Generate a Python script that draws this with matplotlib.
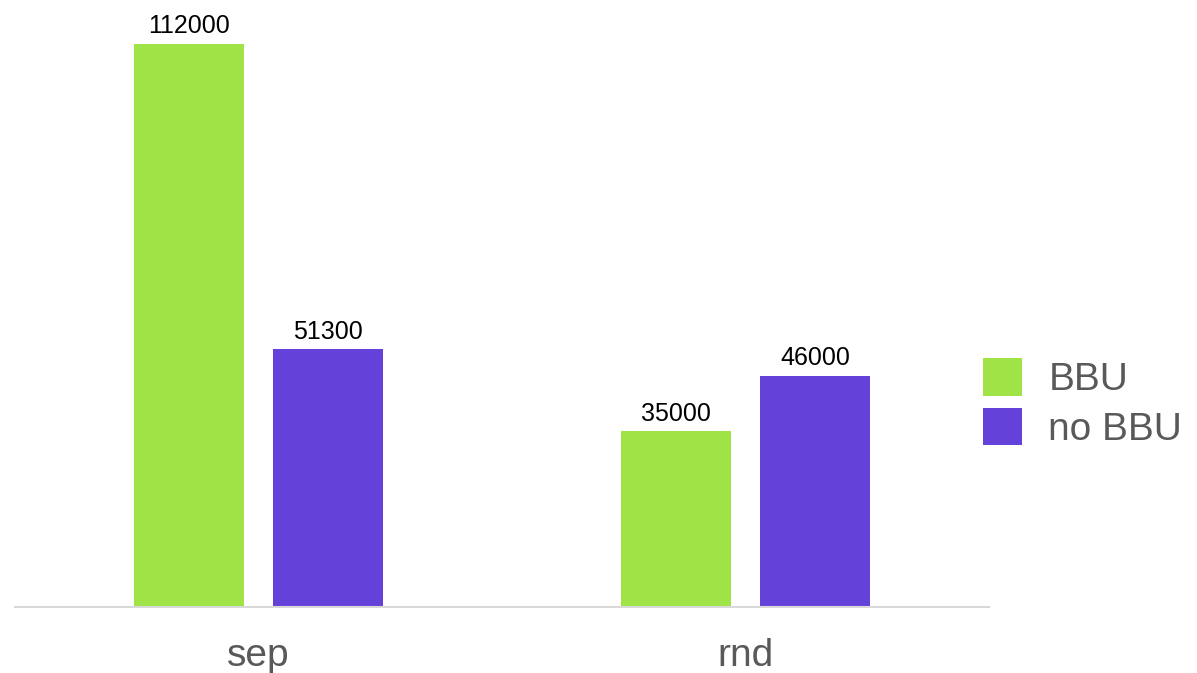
import numpy as np
import matplotlib
matplotlib.use("Agg")
import matplotlib.pyplot as plt

categorias = ["sep", "rnd"]
series = ["BBU", "no BBU"]
bbu = [112000, 35000]
no_bbu = [51300, 46000]
cores = ["#9fe347", "#6441d9"]

plt.rcParams["font.family"] = ["Liberation Sans", "DejaVu Sans"]

fig = plt.figure(figsize=(11.97, 6.73), dpi=100)
ax = fig.add_axes([15 / 1197, 66 / 673, 974 / 1197, 607 / 673])

x = np.array([0.5, 1.5])
largura = 0.226
desloc = 0.143

b1 = ax.bar(x - desloc, bbu, largura, color=cores[0], label=series[0])
b2 = ax.bar(x + desloc, no_bbu, largura, color=cores[1], label=series[1])
for barras in (b1, b2):
    ax.bar_label(barras, labels=[str(v) for v in barras.datavalues],
                 padding=4, fontsize=18, color="black")

ax.set_xlim(0, 2)
ax.set_ylim(0, 112000 * 607 / 563)
ax.set_xticks(x)
ax.set_xticklabels(categorias, fontsize=28, color="#595959")
ax.tick_params(axis="x", length=0, pad=22)
ax.set_yticks([])
for lado in ["top", "right", "left"]:
    ax.spines[lado].set_visible(False)
ax.spines["bottom"].set_color("#d9d9d9")
ax.spines["bottom"].set_linewidth(1.5)

leg = fig.legend(loc="center left", bbox_to_anchor=(983 / 1197, 1 - 403 / 673),
                 frameon=False, fontsize=28, handlelength=1.0, handleheight=1.1,
                 handletextpad=0.68, labelspacing=0.25, borderaxespad=0, borderpad=0)
for t in leg.get_texts():
    t.set_color("#595959")

fig.savefig("out.png", dpi=100)
